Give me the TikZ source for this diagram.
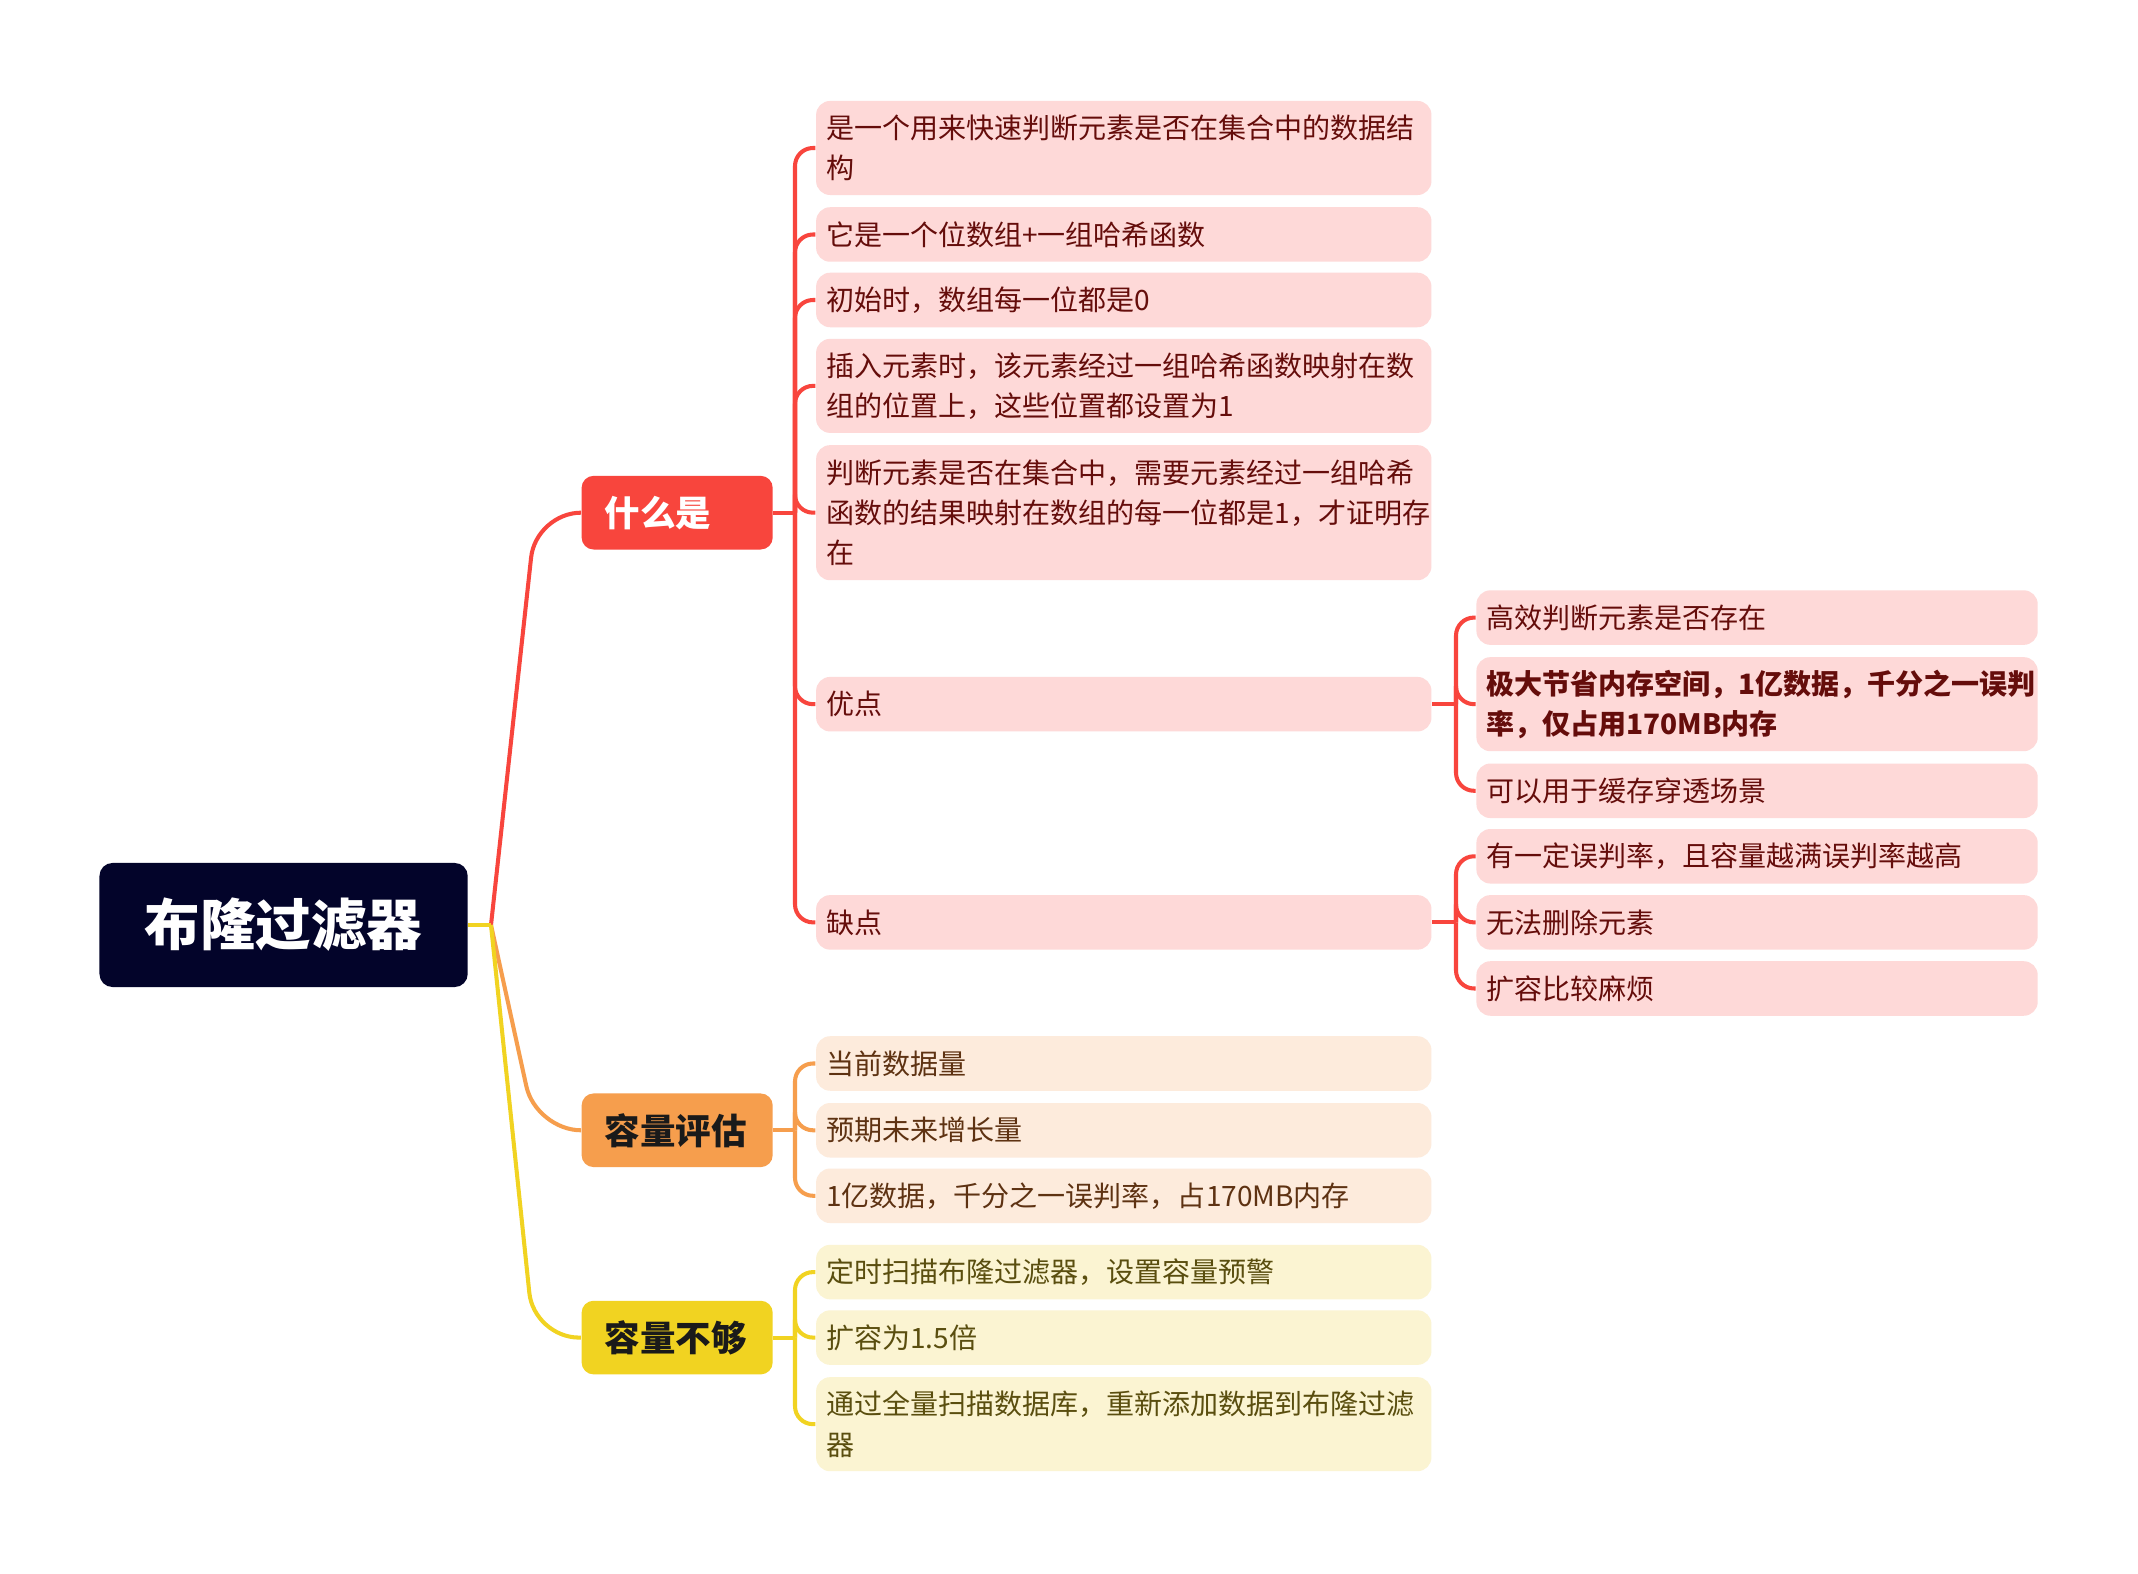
\documentclass[tikz,border=0pt]{standalone}
\usepackage{fontspec}
\setmainfont{Noto Sans CJK SC}
\definecolor{rootfill}{HTML}{03042A}
\definecolor{redmain}{HTML}{F8453D}
\definecolor{redleaf}{HTML}{FED9D8}
\definecolor{redtext}{HTML}{650D0B}
\definecolor{orgmain}{HTML}{F69E4D}
\definecolor{orgleaf}{HTML}{FDEBDC}
\definecolor{orgtext}{HTML}{5E3212}
\definecolor{ylwmain}{HTML}{F1D321}
\definecolor{ylwleaf}{HTML}{FBF4D2}
\definecolor{ylwtext}{HTML}{5A4E0F}
\definecolor{maintext}{HTML}{1A1A1A}
\newcommand\leafsize{\fontsize{7.97pt}{11.38pt}\selectfont}
\newcommand\branchsize{\fontsize{10.1pt}{12pt}\selectfont\bfseries}
\newcommand\rootsize{\fontsize{15.8pt}{18pt}\selectfont\bfseries}
\begin{document}
\begin{tikzpicture}[x=0.01cm,y=-0.01cm,
  rootbox/.style={fill=rootfill, text=white, rounded corners=0.13cm,
    minimum width=3.68cm, minimum height=1.24cm, inner sep=0pt, font=\rootsize},
  mainbox/.style={rounded corners=0.12cm, anchor=west, text width=1.45cm,
    inner xsep=0.23cm, inner ysep=0pt, minimum height=0.736cm, align=left,
    font=\branchsize},
  leaf/.style={rounded corners=0.14cm, anchor=west, inner xsep=0.1cm,
    inner ysep=0pt, minimum height=0.545cm, align=left, font=\leafsize},
  wideleaf/.style={leaf, text width=5.95cm},
  narrowleaf/.style={leaf, text width=5.41cm},
  twolines/.style={minimum height=0.94cm},
  threelines/.style={minimum height=1.35cm},
  redleafbox/.style={fill=redleaf, text=redtext},
  orgleafbox/.style={fill=orgleaf, text=orgtext},
  ylwleafbox/.style={fill=ylwleaf, text=ylwtext},
  link/.style={line width=1.15pt},
  redline/.style={link, draw=redmain},
  orgline/.style={link, draw=orgmain},
  ylwline/.style={link, draw=ylwmain},
  branchround/.style={rounded corners=0.18cm}
]
\useasboundingbox (0,0) rectangle (2138,1574);
\fill[white] (0,0) rectangle (2138,1574);

% root and main branches
\node[rootbox] (root) at (283.6,925) {布隆过滤器};
\node[mainbox, fill=redmain, text=white] (what) at (580.9,512.7) {什么是};
\node[mainbox, fill=orgmain, text=maintext] (eval) at (580.9,1130.3) {容量评估};
\node[mainbox, fill=ylwmain, text=maintext] (lack) at (580.9,1337.6) {容量不够};

% 什么是
\node[wideleaf, redleafbox, twolines] (w1) at (815.4,148) {是一个用来快速判断元素是否在集合中的数据结\\构};
\node[wideleaf, redleafbox] (w2) at (815.4,234.5) {它是一个位数组+一组哈希函数};
\node[wideleaf, redleafbox] (w3) at (815.4,300) {初始时，数组每一位都是0};
\node[wideleaf, redleafbox, twolines] (w4) at (815.4,385.9) {插入元素时，该元素经过一组哈希函数映射在数\\组的位置上，这些位置都设置为1};
\node[wideleaf, redleafbox, threelines] (w5) at (815.4,512.7) {判断元素是否在集合中，需要元素经过一组哈希\\函数的结果映射在数组的每一位都是1，才证明存\\在};
\node[wideleaf, redleafbox] (pro) at (815.4,704.2) {优点};
\node[wideleaf, redleafbox] (con) at (815.4,922.4) {缺点};

% 优点 / 缺点
\node[narrowleaf, redleafbox] (p1) at (1475.7,617.6) {高效判断元素是否存在};
\node[narrowleaf, redleafbox, twolines, font=\leafsize\bfseries] (p2) at (1475.7,704.2) {极大节省内存空间，1亿数据，千分之一误判\\率，仅占用170MB内存};
\node[narrowleaf, redleafbox] (p3) at (1475.7,790.8) {可以用于缓存穿透场景};
\node[narrowleaf, redleafbox] (c1) at (1475.7,856.3) {有一定误判率，且容量越满误判率越高};
\node[narrowleaf, redleafbox] (c2) at (1475.7,922.4) {无法删除元素};
\node[narrowleaf, redleafbox] (c3) at (1475.7,988.5) {扩容比较麻烦};

% 容量评估
\node[wideleaf, orgleafbox] (e1) at (815.4,1063.5) {当前数据量};
\node[wideleaf, orgleafbox] (e2) at (815.4,1130.3) {预期未来增长量};
\node[wideleaf, orgleafbox] (e3) at (815.4,1195.8) {1亿数据，千分之一误判率，占170MB内存};

% 容量不够
\node[wideleaf, ylwleafbox] (l1) at (815.4,1272.1) {定时扫描布隆过滤器，设置容量预警};
\node[wideleaf, ylwleafbox] (l2) at (815.4,1337.6) {扩容为1.5倍};
\node[wideleaf, ylwleafbox, twolines] (l3) at (815.4,1424.2) {通过全量扫描数据库，重新添加数据到布隆过滤\\器};

% connectors from the root
\coordinate (fork) at (491,925);
\draw[redline, rounded corners=0.45cm] (fork) -- (536,512.7) -- (what.west);
\draw[orgline, rounded corners=0.45cm] (fork) -- (536,1130.3) -- (eval.west);
\draw[ylwline, rounded corners=0.45cm] (fork) -- (534,1337.6) -- (lack.west);
\draw[ylwline] (root.east) -- (fork);

% second level connectors
\coordinate (whatfork) at (795,512.7);
\draw[redline] (what.east) -- (whatfork);
\foreach \n in {w1,w2,w3,w4,w5,pro,con}
  \draw[redline, branchround] (whatfork) |- (\n.west);

\coordinate (evalfork) at (795,1130.3);
\draw[orgline] (eval.east) -- (evalfork);
\foreach \n in {e1,e2,e3}
  \draw[orgline, branchround] (evalfork) |- (\n.west);

\coordinate (lackfork) at (795,1337.6);
\draw[ylwline] (lack.east) -- (lackfork);
\foreach \n in {l1,l2,l3}
  \draw[ylwline, branchround] (lackfork) |- (\n.west);

% third level connectors
\coordinate (profork) at (1456,704.2);
\draw[redline] (pro.east) -- (profork);
\foreach \n in {p1,p2,p3}
  \draw[redline, branchround] (profork) |- (\n.west);

\coordinate (confork) at (1456,922.4);
\draw[redline] (con.east) -- (confork);
\foreach \n in {c1,c2,c3}
  \draw[redline, branchround] (confork) |- (\n.west);
\end{tikzpicture}
\end{document}
